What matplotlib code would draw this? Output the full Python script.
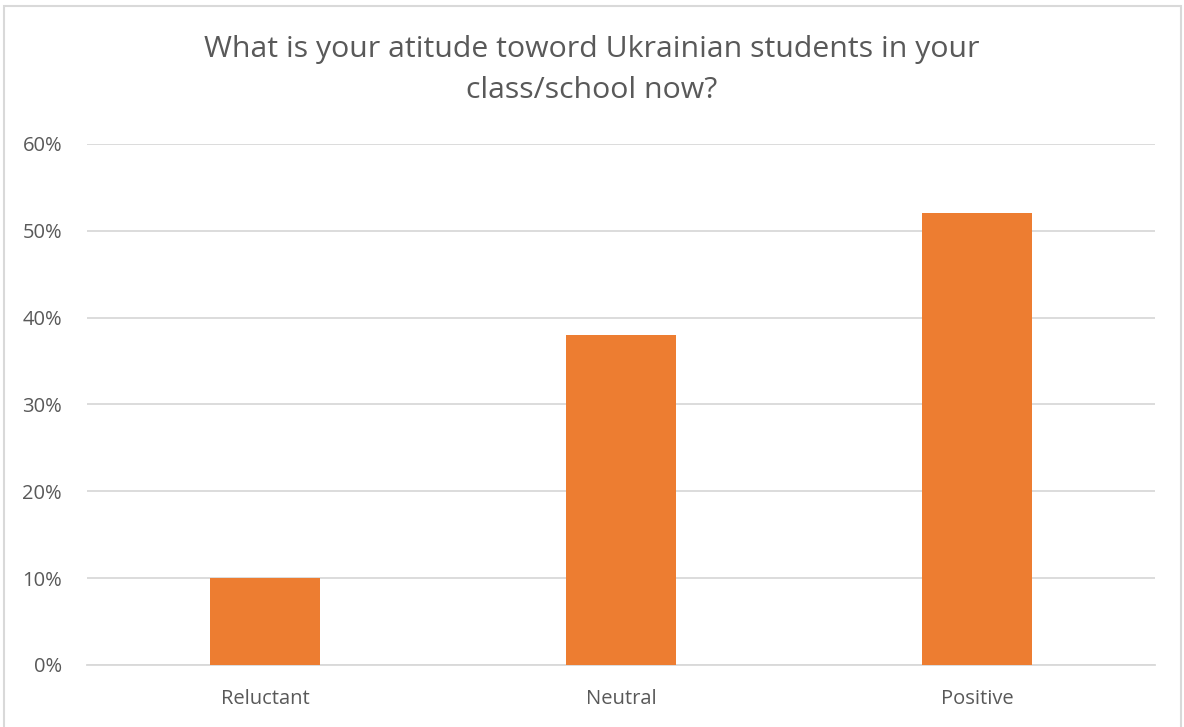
import matplotlib
matplotlib.use("Agg")
import matplotlib.pyplot as plt
from matplotlib.patches import Rectangle
from matplotlib.ticker import PercentFormatter

categories = ["Reluctant", "Neutral", "Positive"]
shares = [0.10, 0.38, 0.52]
yticks = [0.0, 0.1, 0.2, 0.3, 0.4, 0.5, 0.6]

plt.rcParams["font.family"] = ["Open Sans", "DejaVu Sans"]

fig = plt.figure(figsize=(11.84, 7.27), dpi=100)
ax = fig.add_axes([0.0735, 0.0853, 0.902, 0.7167])

# outer chart frame
fig.patches.append(Rectangle((4 / 1184, -0.01), 1177 / 1184, 1 - 6 / 727 + 0.01,
                             transform=fig.transFigure, fill=False,
                             edgecolor="#d9d9d9", linewidth=1.5))

x = range(len(categories))
ax.bar(x, shares, width=0.31, color="#ED7D31", zorder=3)

ax.set_xlim(-0.5, 2.5)
ax.set_ylim(0, 0.6)
ax.set_yticks(yticks)
ax.yaxis.set_major_formatter(PercentFormatter(1.0, decimals=0))
ax.set_xticks(list(x))
ax.set_xticklabels(categories)

ax.grid(axis="y", color="#d9d9d9", linewidth=1.3, zorder=0)
for s in ["top", "right", "left"]:
    ax.spines[s].set_visible(False)
ax.spines["bottom"].set_color("#d9d9d9")
ax.spines["bottom"].set_linewidth(1.3)
ax.tick_params(axis="both", length=0, labelsize=14.5, labelcolor="#595959")
ax.tick_params(axis="y", pad=18)
ax.tick_params(axis="x", pad=17)

fig.text(0.5, 0.904, "What is your atitude toword Ukrainian students in your\nclass/school now?",
         ha="center", va="center", fontsize=21.8, color="#595959", linespacing=1.55)

fig.savefig("out.png", dpi=100)
